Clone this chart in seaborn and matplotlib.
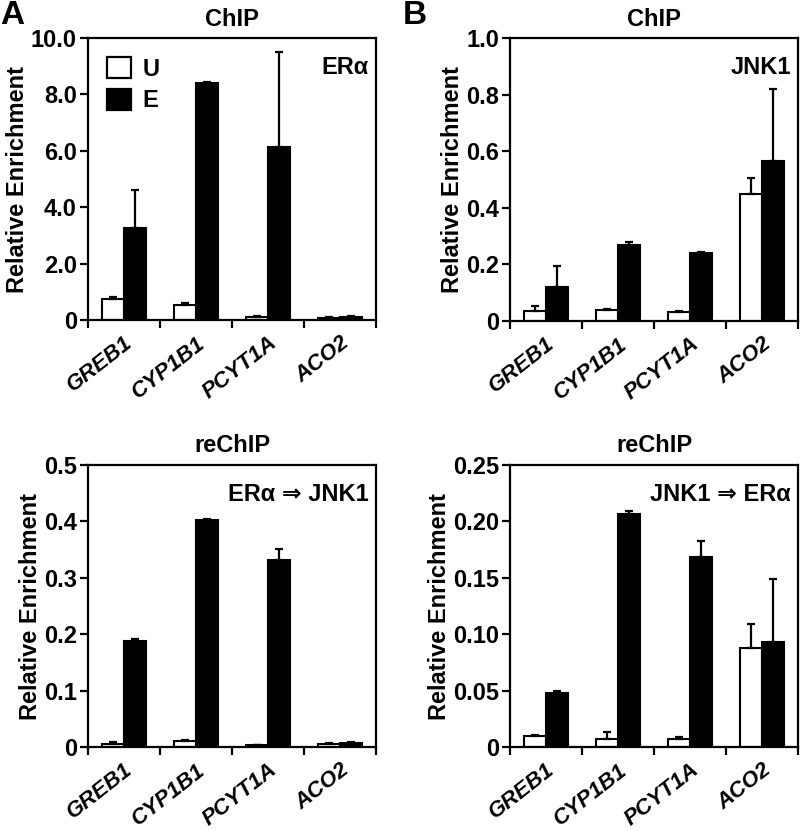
import numpy as np
import pandas as pd
import seaborn as sns
import matplotlib
matplotlib.use('Agg')
import matplotlib.pyplot as plt
from matplotlib.patches import Patch

genes = ['GREB1', 'CYP1B1', 'PCYT1A', 'ACO2']
groups = ['U', 'E']

# panel A top: ChIP ERa
era_u = [0.75, 0.52, 0.10, 0.08]
era_u_err = [0.06, 0.08, 0.05, 0.02]
era_e = [3.25, 8.40, 6.15, 0.10]
era_e_err = [1.35, 0.05, 3.35, 0.03]

# panel B top: ChIP JNK1
jnk_u = [0.035, 0.040, 0.033, 0.450]
jnk_u_err = [0.017, 0.002, 0.003, 0.055]
jnk_e = [0.120, 0.270, 0.240, 0.565]
jnk_e_err = [0.075, 0.008, 0.004, 0.255]

# panel A bottom: reChIP ERa => JNK1
re1_u = [0.006, 0.010, 0.003, 0.005]
re1_u_err = [0.002, 0.002, 0.001, 0.002]
re1_e = [0.188, 0.402, 0.332, 0.007]
re1_e_err = [0.003, 0.003, 0.019, 0.001]

# panel B bottom: reChIP JNK1 => ERa
re2_u = [0.010, 0.007, 0.007, 0.088]
re2_u_err = [0.001, 0.006, 0.002, 0.021]
re2_e = [0.048, 0.207, 0.168, 0.093]
re2_e_err = [0.002, 0.002, 0.015, 0.056]

yticks_a1 = [0, 2, 4, 6, 8, 10]
ylabels_a1 = ['0', '2.0', '4.0', '6.0', '8.0', '10.0']
yticks_b1 = [0, 0.2, 0.4, 0.6, 0.8, 1.0]
ylabels_b1 = ['0', '0.2', '0.4', '0.6', '0.8', '1.0']
yticks_a2 = [0, 0.1, 0.2, 0.3, 0.4, 0.5]
ylabels_a2 = ['0', '0.1', '0.2', '0.3', '0.4', '0.5']
yticks_b2 = [0, 0.05, 0.10, 0.15, 0.20, 0.25]
ylabels_b2 = ['0', '0.05', '0.10', '0.15', '0.20', '0.25']

sns.set_theme(style='ticks')
plt.rcParams['font.family'] = ['Liberation Sans', 'DejaVu Sans']
plt.rcParams['font.weight'] = 'bold'
plt.rcParams['text.color'] = 'black'
plt.rcParams['axes.labelcolor'] = 'black'
plt.rcParams['xtick.color'] = 'black'
plt.rcParams['ytick.color'] = 'black'

FS = 17

fig = plt.figure(figsize=(8, 8.31), dpi=100)
W, H = 800, 831


def add_axes(left, top, right, bottom):
    return fig.add_axes([left / W, 1 - bottom / H, (right - left) / W, (bottom - top) / H])


def panel(ax, u, ue, e, ee, yticks, ylabels, title, tag, legend=False):
    df = pd.DataFrame({
        'gene': genes * 2,
        'group': ['U'] * 4 + ['E'] * 4,
        'value': list(u) + list(e),
    })
    sns.barplot(data=df, x='gene', y='value', hue='group', hue_order=groups,
                palette={'U': 'white', 'E': 'black'}, edgecolor='black',
                linewidth=1.5, width=0.6, errorbar=None, ax=ax, legend=False)
    for cont, errs in zip(ax.containers, [ue, ee]):
        xs = [b.get_x() + b.get_width() / 2 for b in cont]
        ys = [b.get_height() for b in cont]
        ax.errorbar(xs, ys, yerr=[np.zeros(len(errs)), errs], fmt='none',
                    ecolor='black', elinewidth=1.6, capsize=3.2, capthick=1.6, zorder=1)
    ax.set_xlim(-0.5, 3.5)
    ax.set_ylim(yticks[0], yticks[-1])
    ax.set_yticks(yticks)
    ax.set_yticklabels(ylabels, fontsize=FS, fontweight='bold')
    ax.set_xticks(range(4))
    ax.set_xticklabels(genes, fontsize=16, fontweight='bold', style='italic',
                       rotation=38, ha='right', rotation_mode='anchor')
    ax.set_xticks([-0.5, 0.5, 1.5, 2.5, 3.5], minor=True)
    ax.tick_params(axis='x', which='major', length=0, pad=9)
    ax.tick_params(axis='x', which='minor', length=6, width=1.6)
    ax.tick_params(axis='y', length=6, width=1.6, pad=2)
    for s in ax.spines.values():
        s.set_visible(True)
        s.set_linewidth(1.6)
        s.set_color('black')
    ax.set_xlabel('')
    ax.set_ylabel('Relative Enrichment', fontsize=17, fontweight='bold', labelpad=1)
    ax.set_title(title, fontsize=FS, fontweight='bold', pad=9)
    ax.text(0.975, 0.935, tag, transform=ax.transAxes, ha='right', va='top',
            fontsize=FS, fontweight='bold', family=['Liberation Sans', 'DejaVu Sans'])
    if legend:
        handles = [Patch(facecolor='white', edgecolor='black', linewidth=1.6),
                   Patch(facecolor='black', edgecolor='black', linewidth=1.6)]
        ax.legend(handles, groups, loc='upper left', frameon=False,
                  handlelength=1.0, handleheight=1.0, handletextpad=0.5,
                  labelspacing=0.35, borderaxespad=0.4,
                  prop={'size': FS, 'weight': 'bold'})


ax1 = add_axes(88, 38, 376, 320)
panel(ax1, era_u, era_u_err, era_e, era_e_err, yticks_a1, ylabels_a1, 'ChIP', 'ERα', legend=True)
ax2 = add_axes(510, 38, 798, 321)
panel(ax2, jnk_u, jnk_u_err, jnk_e, jnk_e_err, yticks_b1, ylabels_b1, 'ChIP', 'JNK1')
ax3 = add_axes(88, 465, 376, 747)
panel(ax3, re1_u, re1_u_err, re1_e, re1_e_err, yticks_a2, ylabels_a2, 'reChIP', 'ERα ⇒ JNK1')
ax4 = add_axes(510, 465, 798, 747)
panel(ax4, re2_u, re2_u_err, re2_e, re2_e_err, yticks_b2, ylabels_b2, 'reChIP', 'JNK1 ⇒ ERα')

fig.text(0 / W, 1 - 0 / H, 'A', fontsize=24, fontweight='bold', ha='left', va='top')
fig.text(403 / W, 1 - 0 / H, 'B', fontsize=24, fontweight='bold', ha='left', va='top')

fig.savefig('out.png', dpi=100)
